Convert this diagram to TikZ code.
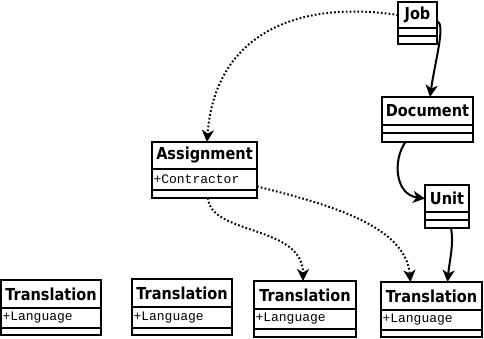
\documentclass[tikz,border=0pt]{standalone}
\usepackage{fontspec}
\usetikzlibrary{arrows.meta,calc}
\newfontfamily\clsfont{DejaVu Sans}[FakeStretch=0.88]
\newfontfamily\attrfont{Liberation Mono}
\newcommand\umlclass[9]{%
  \node[ctitle, minimum width=#4pt, minimum height=#5pt, anchor=north west] (#1) at (#2,#3) {#8};
  \node[cbox, minimum width=#4pt, minimum height=#6pt, anchor=north west] (#1-a) at (#1.south west) {};
  \node[cbox, minimum width=#4pt, minimum height=#7pt, anchor=north west] (#1-b) at (#1-a.south west) {};
  \node[ctext, anchor=west] (#1-t) at ([xshift=1.5pt]#1-a.west) {#9};
}
\tikzset{
  cbox/.style={draw=black, line width=2.5pt, fill=white, inner sep=0pt, outer sep=0pt, rectangle},
  ctitle/.style={cbox, font=\clsfont\bfseries\fontsize{16.5}{18}\selectfont},
  ctext/.style={inner sep=0pt, outer sep=0pt, font=\attrfont\fontsize{13}{15}\selectfont},
  solidlink/.style={line width=2pt, -{Stealth[length=12pt,width=12pt,inset=3.5pt]}},
  dotlink/.style={line width=2pt, dash pattern=on 1.7pt off 2.2pt, -{Stealth[length=12pt,width=12pt,inset=3.5pt]}}
}
\begin{document}
\begin{tikzpicture}[x=1pt,y=-1pt]
\useasboundingbox (0,0) rectangle (484,339);
\umlclass{job}{398}{2}{39}{26}{8}{8}{Job}{}
\umlclass{doc}{382}{97}{91}{28}{8}{9}{Document}{}
\umlclass{unit}{425}{185}{44}{27}{8}{8}{Unit}{}
\umlclass{asg}{152}{142}{105}{27}{21}{8}{Assignment}{+Contractor}
\umlclass{tra}{1}{280}{100}{28}{20}{7}{Translation}{+Language}
\umlclass{trb}{132}{279}{100}{28}{21}{7}{Translation}{+Language}
\umlclass{trc}{254}{281}{102}{28}{20}{8}{Translation}{+Language}
\umlclass{trd}{381}{282}{101}{28}{20}{7}{Translation}{+Language}
% connectors
\draw[solidlink] ([yshift=-6pt]job.east) .. controls +(9,3) and +(5,-36) .. ([xshift=2.5pt]doc.north);
\draw[dotlink] (job.west) .. controls +(-98,-15) and +(8,-110) .. ([xshift=2.5pt]asg.north);
\draw[solidlink] ([xshift=-22pt]doc-b.south) .. controls +(-13,18) and +(-30,-4) .. (unit.west);
\draw[solidlink] ([xshift=4pt]unit-b.south) .. controls +(3,17) and +(2,-22) .. ([xshift=16pt]trd.north);
\draw[dotlink] ([xshift=3.5pt]asg-b.south) .. controls +(2,37) and +(0,-56) .. ([xshift=-2pt]trc.north);
\draw[dotlink] ([yshift=-7pt]asg-a.east) .. controls +(73,18) and +(-5,-56) .. ([xshift=-21pt]trd.north);
\end{tikzpicture}
\end{document}
